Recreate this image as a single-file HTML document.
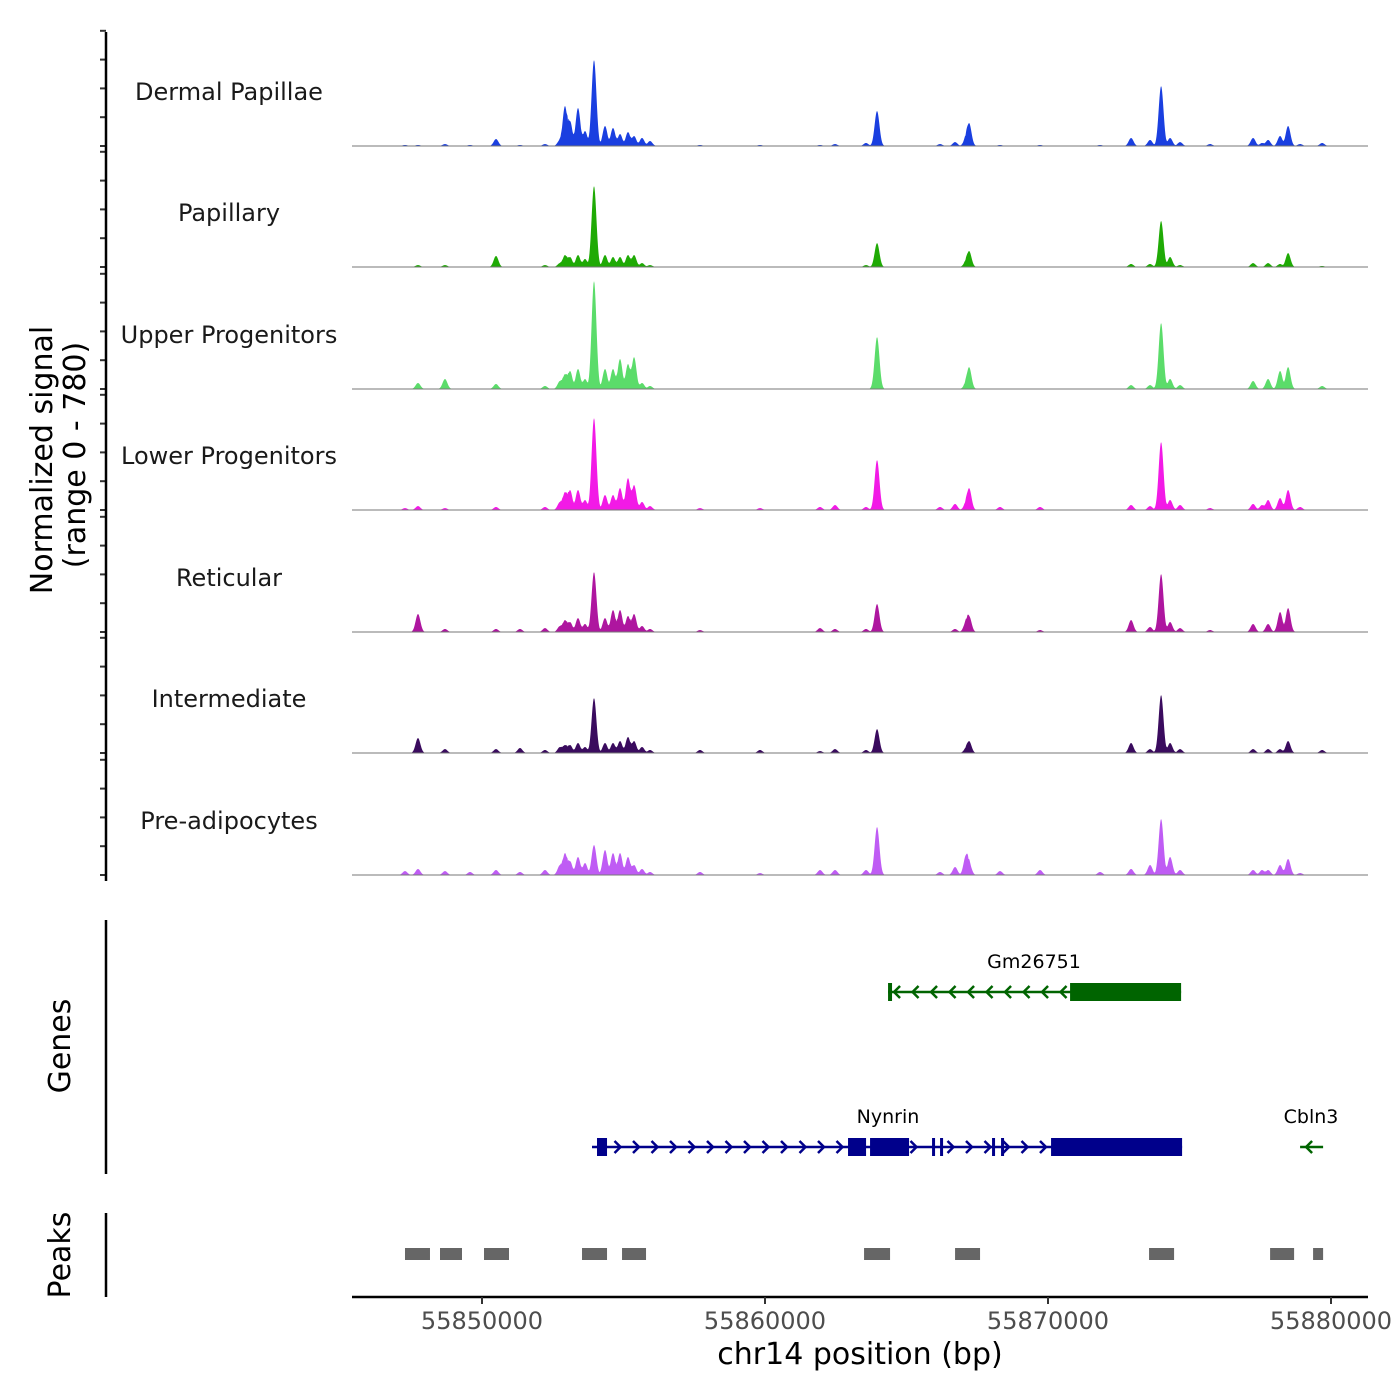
<!DOCTYPE html>
<html><head><meta charset="utf-8">
<style>
html,body{margin:0;padding:0;background:#fff;}
svg{display:block;font-family:"DejaVu Sans","Liberation Sans",sans-serif;}
</style></head>
<body>
<svg id="chart" width="1400" height="1400" viewBox="0 0 1400 1400" xmlns="http://www.w3.org/2000/svg">
<rect x="0" y="0" width="1400" height="1400" fill="#fff"/>
<g id="tracks"></g>
<g id="ylabels"></g>
<g id="yaxis"></g>
<text transform="translate(52,460) rotate(-90)" text-anchor="middle" font-size="30" fill="#000">Normalized signal</text>
<text transform="translate(85,455) rotate(-90)" text-anchor="middle" font-size="30" fill="#000">(range 0 - 780)</text>
<g id="genes"></g>
<line x1="106" y1="920" x2="106" y2="1174" stroke="#000" stroke-width="2.5"/>
<text transform="translate(70,1046) rotate(-90)" text-anchor="middle" font-size="30" fill="#000">Genes</text>
<g id="peaks"></g>
<line x1="106" y1="1213" x2="106" y2="1297" stroke="#000" stroke-width="2.5"/>
<text transform="translate(70,1255) rotate(-90)" text-anchor="middle" font-size="30" fill="#000">Peaks</text>
<g id="xaxis"></g>
<text x="860" y="1364" text-anchor="middle" font-size="30" fill="#000">chr14 position (bp)</text>
</svg>
<script>
const trackNames = ["Dermal Papillae","Papillary","Upper Progenitors","Lower Progenitors","Reticular","Intermediate","Pre-adipocytes"];
const trackColors = ["#1a3fe0","#1faa05","#5bdc6a","#f21ae6","#ae169f","#3a0b5e","#bf5cf4"];
const peakPositions = [55847279,55847738,55848692,55849576,55850495,55851343,55852226,55852757,55852933,55853110,55853393,55853640,55853958,55854347,55854630,55854877,55855160,55855372,55855654,55855937,55857704,55859825,55861945,55862475,55863571,55863959,55866186,55866716,55867104,55867210,55868306,55869720,55871840,55872936,55873607,55873996,55874314,55874667,55875727,55877247,55877565,55877777,55878201,55878484,55878908,55879686];
const dermalPapillae = [7,7,13,7,46,7,13,40,264,165,251,99,568,132,119,79,92,66,53,33,7,7,7,13,20,231,13,26,53,152,7,7,7,53,40,396,53,26,13,53,20,40,66,132,13,20];
const papillary = [0,13,13,0,73,0,13,26,79,66,79,53,535,79,66,66,79,79,26,13,0,0,0,0,13,158,0,0,33,106,0,0,0,20,20,304,66,13,0,26,0,26,20,92,0,7];
const upperProgenitors = [0,40,66,0,33,0,20,53,99,119,132,66,713,132,132,198,165,211,40,20,0,0,0,0,0,343,0,0,33,145,0,0,0,26,26,436,66,26,0,53,0,66,119,145,0,20];
const lowerProgenitors = [13,26,13,0,20,0,20,53,119,132,132,66,607,99,99,145,211,165,53,26,13,13,20,33,20,330,20,40,40,145,20,20,0,33,26,449,66,33,13,40,33,66,79,132,20,0];
const reticular = [0,119,20,0,20,20,26,40,79,66,92,53,396,92,145,145,106,119,40,20,13,0,26,20,20,185,0,20,66,106,0,13,0,79,33,383,66,26,13,53,0,53,132,158,0,0];
const intermediate = [0,99,26,0,26,33,20,40,53,53,66,40,363,66,66,79,106,79,40,20,20,20,13,26,20,158,0,0,26,79,0,0,0,66,26,383,66,26,0,26,0,26,26,79,0,20];
const preAdipocytes = [26,40,26,20,33,20,33,66,145,92,119,79,198,165,145,145,119,66,40,20,20,13,33,33,33,317,20,53,132,79,26,33,20,40,66,370,119,33,0,33,33,33,66,106,13,0];
const xTicks = [55850000,55860000,55870000,55880000];
const xTickLabels = ["55850000","55860000","55870000","55880000"];
const peakStarts = [55847279,55848516,55850071,55853534,55854948,55863500,55866716,55873571,55877848,55879367];
const peakEnds   = [55848162,55849293,55850954,55854418,55855796,55864419,55867599,55874455,55878696,55879721];
const gm26751Exons = [[55864348,55864489],[55870780,55874703]];
const nynrinExons = [[55854064,55854418],[55862934,55863571],[55863712,55865090],[55865903,55866009],[55866186,55866292],[55868023,55868129],[55868341,55868447],[55870108,55874738]];

const NS="http://www.w3.org/2000/svg";
function mk(tag, attrs, parent){const e=document.createElementNS(NS,tag);for(const k in attrs)e.setAttribute(k,attrs[k]);parent.appendChild(e);return e;}
const X0=352, X1=1368;
function xScale(bp){return 482 + (bp-55850000)*0.0283;}
const baselines=[146,267,389,510,632,753,875];
function yScale(v,i){return baselines[i]-v*118/780;}
const allSeries=[dermalPapillae,papillary,upperProgenitors,lowerProgenitors,reticular,intermediate,preAdipocytes];

const tg=document.getElementById('tracks');
const lg=document.getElementById('ylabels');
const ya=document.getElementById('yaxis');
allSeries.forEach((vals,i)=>{
  const pxs=peakPositions.map(xScale);
  let d="M"+X0+","+baselines[i];
  for(let x=395;x<=1328;x+=0.5){
    let v=0, s=0;
    for(let k=0;k<pxs.length;k++){const dx=(x-pxs[k])/3.4;if(Math.abs(dx)<4){const t=vals[k]*Math.exp(-dx*dx);if(t>v)v=t;s+=t;}}
    v=Math.max(v,Math.min(s*0.8,v*1.35));
    d+=" L"+x+","+yScale(v,i).toFixed(2);
  }
  d+=" L"+X1+","+baselines[i]+" Z";
  const p=mk('path',{d:d,fill:trackColors[i],stroke:'none'},tg);
  
  
  const bl=mk('line',{x1:X0,x2:X1,y1:baselines[i],y2:baselines[i],stroke:'#777','stroke-width':1},tg);
  
  
  const t=mk('text',{x:229,y:baselines[i]-46,'text-anchor':'middle','font-size':24,fill:'#1a1a1a'},lg);
  t.textContent=trackNames[i];
  
  
  for(let k=0;k<=4;k++){
    const y=baselines[i]-k*28.8;
    const tk=mk('line',{x1:100,x2:106,y1:y,y2:y,stroke:'#333','stroke-width':2},ya);
    
    
  }
});
const yl=mk('line',{x1:106,x2:106,y1:32,y2:881,stroke:'#000','stroke-width':2.5},ya);



const pg=document.getElementById('peaks');
peakStarts.forEach((s,i)=>{
  const r=mk('rect',{x:xScale(s),y:1248,width:xScale(peakEnds[i])-xScale(s),height:12,fill:'#666'},pg);
  
  
});

const gg=document.getElementById('genes');
function chevron(x,y,dir,col){
  const c=mk('path',{d:`M${x-dir*4},${y-6} L${x+dir*2},${y} L${x-dir*4},${y+6}`,fill:'none',stroke:col,'stroke-width':2.5},gg);
  
  
}
function gene(name,start,end,y,exons,dir,col,labelX){
  const l=mk('line',{x1:xScale(start),x2:xScale(end),y1:y,y2:y,stroke:col,'stroke-width':2.5},gg);
  
  
  for(let x=xScale(start)+8;x<xScale(end)-4;x+=18.5){
    if(exons.some(e=>x>=xScale(e[0])-2&&x<=xScale(e[1])+2))continue;
    chevron(x,y,dir,col);
  }
  exons.forEach(e=>{
    const r=mk('rect',{x:xScale(e[0]),y:y-9,width:Math.max(3,xScale(e[1])-xScale(e[0])),height:18,fill:col},gg);
    
    
  });
  const t=mk('text',{x:labelX,y:y-24,'text-anchor':'middle','font-size':19,fill:'#000'},gg);
  t.textContent=name;
  
  
}
gene("Gm26751",55864348,55874703,992,gm26751Exons,-1,"#006400",1034);
gene("Nynrin",55853887,55874738,1147,nynrinExons,1,"#00008b",888);
gene("Cbln3",55878908,55879721,1147,[],-1,"#006400",1311);

const xg=document.getElementById('xaxis');
const al=mk('line',{x1:X0,x2:X1,y1:1297,y2:1297,stroke:'#000','stroke-width':2.5},xg);


xTicks.forEach((v,i)=>{
  const x=xScale(v);
  const tk=mk('line',{x1:x,x2:x,y1:1297,y2:1304,stroke:'#333','stroke-width':2},xg);
  
  
  const t=mk('text',{x:x,y:1329,'text-anchor':'middle','font-size':24,fill:'#4d4d4d'},xg);
  t.textContent=xTickLabels[i];
  
  
});
</script>
</body></html>
